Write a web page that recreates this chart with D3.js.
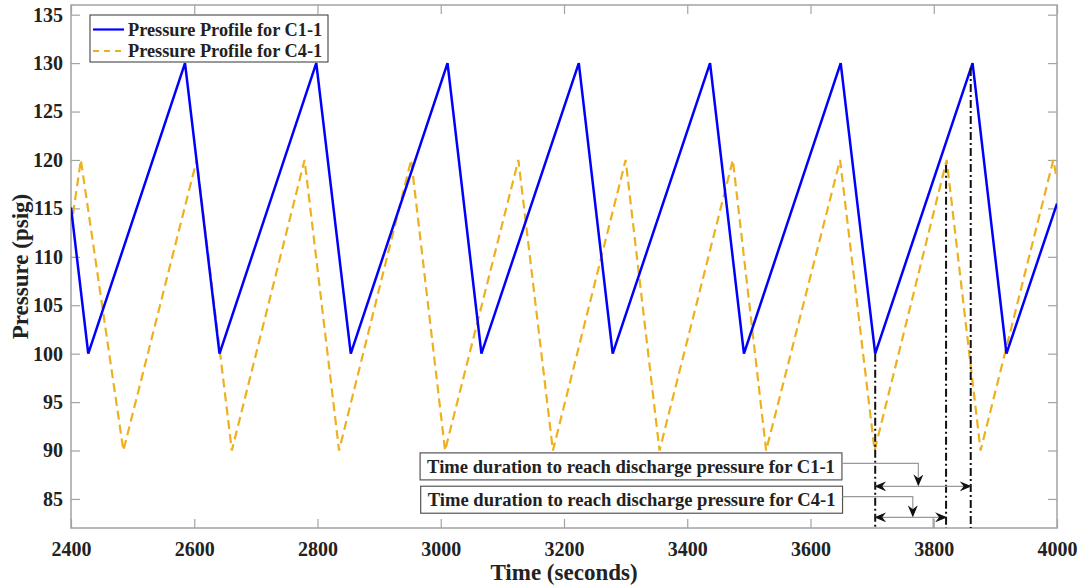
<!DOCTYPE html>
<html>
<head>
<meta charset="utf-8">
<script src="https://cdn.jsdelivr.net/npm/d3@7"></script>
<style>
  html, body { margin: 0; padding: 0; background: #fff; }
  svg { display: block; }
  text { font-family: "Times New Roman", "Liberation Serif", serif; font-weight: bold; fill: #222; }
</style>
</head>
<body>
<svg id="chart" width="1081" height="588"></svg>
<script>
// ---- Data ----
const timeC1 = [2400, 2428, 2585, 2641, 2798, 2854, 3011, 3066, 3224, 3279, 3437, 3492, 3649, 3705, 3863, 3918, 4000];
const pressureC1 = [115.1, 100, 130, 100, 130, 100, 130, 100, 130, 100, 130, 100, 130, 100, 130, 100, 115.5];

const timeC4 = [2400, 2416, 2485, 2604, 2661, 2779, 2835, 2952, 3007, 3126, 3182, 3300, 3355, 3474, 3528, 3648, 3704, 3821, 3876, 3994, 4000];
const pressureC4 = [113, 120, 90, 120, 90, 120, 90, 120, 90, 120, 90, 120, 90, 120, 90, 120, 90, 120, 90, 120, 118];

const seriesNames = ["Pressure Profile for C1-1", "Pressure Profile for C4-1"];

const xTicks = [2400, 2600, 2800, 3000, 3200, 3400, 3600, 3800, 4000];
const yTicks = [85, 90, 95, 100, 105, 110, 115, 120, 125, 130, 135];

// Vertical marker lines: time, pressure where the marker starts
const markerTimes = [3705, 3820, 3860];
const markerTops = [100, 119.5, 129.5];

// Annotations: label, double arrow span (start/end time, pressure), connector time
const annLabels = ["Time duration to reach discharge pressure for C1-1", "Time duration to reach discharge pressure for C4-1"];
const annBoxRight = [3651, 3652];
const annBoxCenter = [88.36, 84.92];
const annArrowStart = [3705, 3705];
const annArrowEnd = [3860, 3820];
const annArrowP = [86.3, 83.1];
const annConnectorT = [3775, 3766];

// ---- Layout ----
const svg = d3.select("#chart");
const margin = { left: 71, right: 24, top: 5, bottom: 60 };
const W = 1081, H = 588;
const x = d3.scaleLinear().domain([2400, 4000]).range([margin.left, W - margin.right]);
const y = d3.scaleLinear().domain([82, 136]).range([H - margin.bottom, margin.top]);

const axisColor = "#a3a3a3";

const defs = svg.append("defs");
defs.append("clipPath").attr("id", "clip").append("rect")
  .attr("x", x.range()[0]).attr("y", y.range()[1])
  .attr("width", x.range()[1] - x.range()[0]).attr("height", y.range()[0] - y.range()[1]);

function arrowMarker(id, orient) {
  defs.append("marker").attr("id", id)
    .attr("viewBox", "0 0 12 10").attr("refX", 11).attr("refY", 5)
    .attr("markerWidth", 12).attr("markerHeight", 10)
    .attr("markerUnits", "userSpaceOnUse").attr("orient", orient)
    .append("path").attr("d", "M0,0 L12,5 L0,10 L4,5 Z").attr("fill", "#111");
}
arrowMarker("arrowEnd", "auto");
arrowMarker("arrowStart", "auto-start-reverse");

// Plot box
svg.append("rect")
  .attr("x", x.range()[0]).attr("y", y.range()[1])
  .attr("width", x.range()[1] - x.range()[0]).attr("height", y.range()[0] - y.range()[1])
  .attr("fill", "#fff").attr("stroke", axisColor).attr("stroke-width", 1.5);

// Axes (ticks inward, on all four sides)
const tickLen = 9;
const gx = svg.append("g").attr("transform", `translate(0,${y.range()[0]})`)
  .call(d3.axisBottom(x).tickValues(xTicks).tickSizeInner(-tickLen).tickSizeOuter(0).tickPadding(14).tickFormat(d3.format("d")));
const gxTop = svg.append("g").attr("transform", `translate(0,${y.range()[1]})`)
  .call(d3.axisTop(x).tickValues(xTicks).tickSizeInner(-tickLen).tickSizeOuter(0).tickFormat(""));
const gy = svg.append("g").attr("transform", `translate(${x.range()[0]},0)`)
  .call(d3.axisLeft(y).tickValues(yTicks).tickSizeInner(-tickLen).tickSizeOuter(0).tickPadding(8));
const gyR = svg.append("g").attr("transform", `translate(${x.range()[1]},0)`)
  .call(d3.axisRight(y).tickValues(yTicks).tickSizeInner(-tickLen).tickSizeOuter(0).tickFormat(""));
[gx, gxTop, gy, gyR].forEach(g => {
  g.select(".domain").remove();
  g.selectAll(".tick line").attr("stroke", axisColor).attr("stroke-width", 1.2);
  g.selectAll(".tick text").attr("font-family", "'Times New Roman','Liberation Serif',serif")
    .attr("font-weight", "bold").attr("font-size", 20).attr("fill", "#222");
});

// Axis titles
svg.append("text").attr("x", (x.range()[0] + x.range()[1]) / 2).attr("y", 580)
  .attr("text-anchor", "middle").attr("font-size", 23).text("Time (seconds)");
svg.append("text").attr("transform", `translate(28,${(y.range()[0] + y.range()[1]) / 2}) rotate(-90)`)
  .attr("text-anchor", "middle").attr("font-size", 23).text("Pressure (psig)");

// Series
const plot = svg.append("g").attr("clip-path", "url(#clip)");
const line = d3.line().x(d => x(d[0])).y(d => y(d[1]));
const c4 = d3.zip(timeC4, pressureC4);
const c1 = d3.zip(timeC1, pressureC1);

plot.append("path").datum(c4).attr("d", line).attr("fill", "none")
  .attr("stroke", "#EDB120").attr("stroke-width", 2.2).attr("stroke-dasharray", "9,5");
plot.append("path").datum(c1).attr("d", line).attr("fill", "none")
  .attr("stroke", "#0000FF").attr("stroke-width", 2.5).attr("stroke-linejoin", "miter");

// Vertical dash-dot marker lines
markerTimes.forEach((t, i) => {
  plot.append("line").attr("x1", x(t)).attr("x2", x(t))
    .attr("y1", y(markerTops[i])).attr("y2", y(82))
    .attr("stroke", "#111").attr("stroke-width", 2).attr("stroke-dasharray", "8,3,2,3");
});

// Annotations
annLabels.forEach((lab, i) => {
  const g = svg.append("g");
  const cy = y(annBoxCenter[i]);
  const t = g.append("text").attr("font-size", 18.6).attr("text-anchor", "end")
    .attr("x", x(annBoxRight[i]) - 7).attr("y", cy).attr("dy", "0.34em").text(lab);
  const bb = t.node().getBBox();
  g.insert("rect", "text")
    .attr("x", bb.x - 7).attr("y", cy - 13.5)
    .attr("width", x(annBoxRight[i]) - (bb.x - 7)).attr("height", 27)
    .attr("fill", "#fff").attr("stroke", "#555").attr("stroke-width", 1.2);
  // connector from box to arrow
  const cx = x(annConnectorT[i]);
  const ay = y(annArrowP[i]);
  svg.append("path")
    .attr("d", `M${x(annBoxRight[i])},${cy - 3} H${cx} V${ay - 1}`)
    .attr("fill", "none").attr("stroke", "#999").attr("stroke-width", 1.2)
    .attr("marker-end", "url(#arrowEnd)");
  // double-headed arrow
  svg.append("line")
    .attr("x1", x(annArrowStart[i])).attr("x2", x(annArrowEnd[i]))
    .attr("y1", ay).attr("y2", ay)
    .attr("stroke", "#999").attr("stroke-width", 1.2)
    .attr("marker-start", "url(#arrowStart)").attr("marker-end", "url(#arrowEnd)");
});
// small leftover tick segment under the second arrow
svg.append("line").attr("x1", x(3799)).attr("x2", x(3799))
  .attr("y1", y(annArrowP[1])).attr("y2", y(82))
  .attr("stroke", "#999").attr("stroke-width", 1.2);

// Legend
const lg = svg.append("g");
lg.append("rect").attr("x", 90).attr("y", 15).attr("width", 238).attr("height", 47)
  .attr("fill", "#fff").attr("stroke", "#333").attr("stroke-width", 1);
const legendColors = ["#0000FF", "#EDB120"];
const legendDash = [null, "6,5"];
seriesNames.forEach((name, i) => {
  const ly = 29.5 + i * 21.5;
  lg.append("line").attr("x1", 93).attr("x2", 124).attr("y1", ly).attr("y2", ly)
    .attr("stroke", legendColors[i]).attr("stroke-width", 2.2)
    .attr("stroke-dasharray", legendDash[i]);
  lg.append("text").attr("x", 128).attr("y", ly).attr("dy", "0.35em")
    .attr("font-size", 18.3).text(name);
});
</script>
</body>
</html>
